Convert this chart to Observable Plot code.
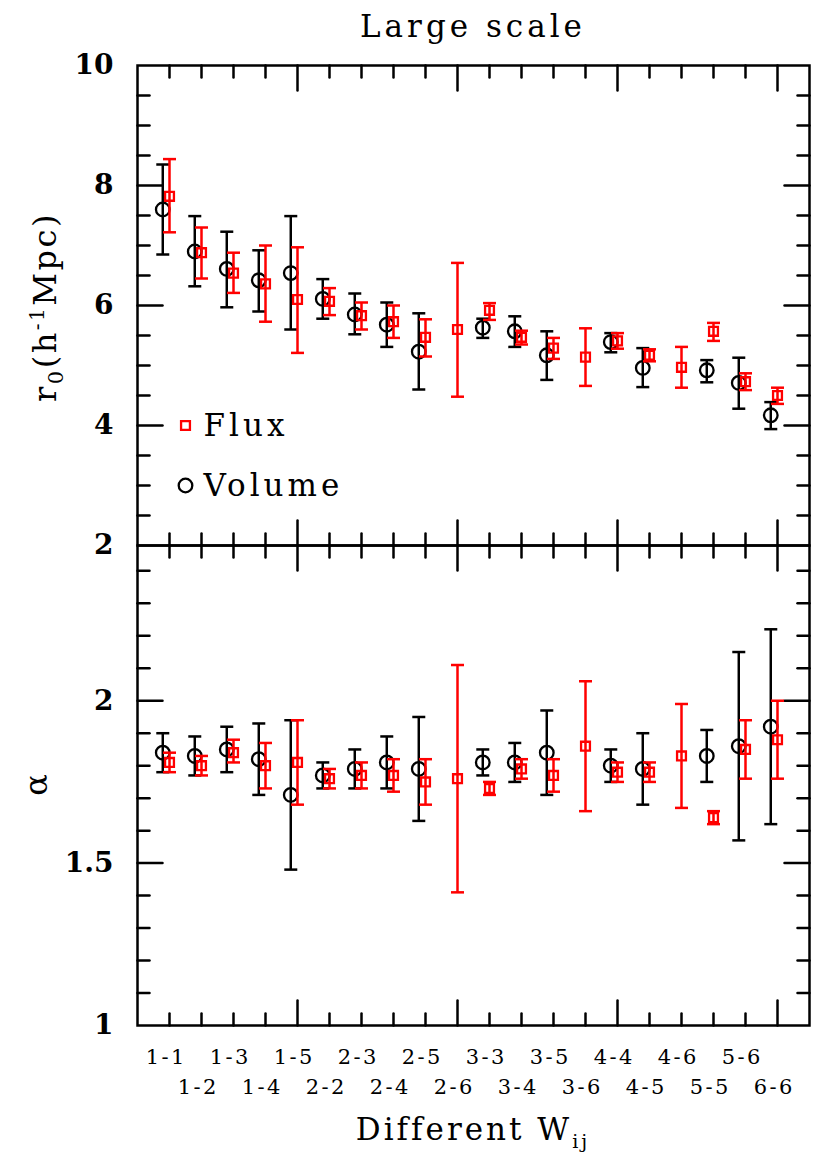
<!DOCTYPE html>
<html>
<head>
<meta charset="utf-8">
<script src="https://cdn.jsdelivr.net/npm/d3@7"></script>
<script src="https://cdn.jsdelivr.net/npm/@observablehq/plot@0.6"></script>
<style>
  body { margin: 0; background: #fff; }
  #title { width: 830px; height: 50px; box-sizing: border-box; padding-left: 116px; text-align: center;
           font-family: "DejaVu Serif"; font-size: 31px; line-height: 52px; letter-spacing: 4px; color: #000; }
  #chart svg { display: block; overflow: visible; background: transparent; }
</style>
</head>
<body>
<div id="title">Large scale</div>
<div id="chart"></div>
<script>
// ---- data ----
const pairs = ["1-1","1-2","1-3","1-4","1-5","2-2","2-3","2-4","2-5","2-6",
               "3-3","3-4","3-5","3-6","4-4","4-5","4-6","5-5","5-6","6-6"];

// Volume (black circles) — r0
const volR0   = [7.60, 6.90, 6.61, 6.42, 6.54, 6.11, 5.85, 5.68, 5.23, null, 5.63, 5.57, 5.17, null, 5.39, 4.96, null, 4.92, 4.71, 4.17];
const volR0Lo = [6.85, 6.32, 5.97, 5.90, 5.60, 5.78, 5.52, 5.31, 4.60, null, 5.46, 5.31, 4.76, null, 5.22, 4.64, null, 4.72, 4.28, 3.94];
const volR0Hi = [8.35, 7.49, 7.23, 6.92, 7.49, 6.44, 6.20, 6.05, 5.87, null, 5.78, 5.82, 5.57, null, 5.54, 5.29, null, 5.09, 5.13, 4.39];

// Flux (red squares) — r0
const fluxR0   = [7.82, 6.88, 6.54, 6.36, 6.10, 6.07, 5.83, 5.73, 5.47, 5.60, 5.92, 5.47, 5.29, 5.14, 5.41, 5.17, 4.97, 5.57, 4.73, 4.50];
const fluxR0Lo = [7.22, 6.45, 6.21, 5.73, 5.21, 5.84, 5.60, 5.46, 5.15, 4.48, 5.76, 5.35, 5.11, 4.66, 5.28, 5.07, 4.63, 5.41, 4.59, 4.36];
const fluxR0Hi = [8.44, 7.30, 6.88, 7.00, 6.97, 6.29, 6.05, 6.00, 5.77, 6.71, 6.04, 5.58, 5.46, 5.62, 5.54, 5.27, 5.31, 5.71, 4.87, 4.63];

// Volume — alpha
const volA   = [1.84, 1.83, 1.85, 1.82, 1.71, 1.77, 1.79, 1.81, 1.79, null, 1.81, 1.81, 1.84, null, 1.80, 1.79, null, 1.83, 1.86, 1.92];
const volALo = [1.78, 1.77, 1.78, 1.71, 1.48, 1.73, 1.73, 1.73, 1.63, null, 1.77, 1.75, 1.71, null, 1.75, 1.68, null, 1.75, 1.57, 1.62];
const volAHi = [1.90, 1.89, 1.92, 1.93, 1.94, 1.81, 1.85, 1.89, 1.95, null, 1.85, 1.87, 1.97, null, 1.85, 1.90, null, 1.91, 2.15, 2.22];

// Flux — alpha
const fluxA   = [1.81, 1.80, 1.84, 1.80, 1.81, 1.76, 1.77, 1.77, 1.75, 1.76, 1.73, 1.79, 1.77, 1.86, 1.78, 1.78, 1.83, 1.64, 1.85, 1.88];
const fluxALo = [1.78, 1.77, 1.81, 1.73, 1.68, 1.73, 1.73, 1.72, 1.68, 1.41, 1.71, 1.76, 1.72, 1.66, 1.75, 1.75, 1.67, 1.62, 1.76, 1.76];
const fluxAHi = [1.84, 1.83, 1.88, 1.87, 1.94, 1.79, 1.81, 1.82, 1.82, 2.11, 1.75, 1.82, 1.82, 2.06, 1.81, 1.81, 1.99, 1.66, 1.94, 2.00];

// tick values
const r0Labels = [2, 4, 6, 8, 10];
const r0Minor = [2.5, 3, 3.5, 4.5, 5, 5.5, 6.5, 7, 7.5, 8.5, 9, 9.5];
const r0Major = [4, 6, 8];
const aLabels = [1, 1.5, 2];
const aMinor = [1.1, 1.2, 1.3, 1.4, 1.6, 1.7, 1.8, 1.9, 2.1, 2.2, 2.3, 2.4];
const aMajor = [1.5, 2];
const xMinor = [1,2,3,4,6,7,8,9,11,12,13,14,16,17,18,19];
const xMajor = [5, 10, 15, 20];

// ---- helpers ----
const volOffset = 0.21;   // volume points drawn slightly left of the flux points
function rows(v, lo, hi, off) {
  return pairs.map((p, i) => ({pair: p, pos: i + 1 - off, v: v[i], lo: lo[i], hi: hi[i]}))
              .filter(d => d.v != null);
}
const capSym = {draw(ctx) { ctx.moveTo(-6.5, 0); ctx.lineTo(6.5, 0); }};
const tickLine = {draw(ctx, l) { ctx.moveTo(0, 0); ctx.lineTo(0, -l); }};
function edge(values, chan, anchor, rotate, length) {
  return Plot.vector(values, {[chan]: d => d, frameAnchor: anchor, rotate, length, anchor: "start",
                              shape: tickLine, stroke: "black", strokeWidth: 2.5});
}
function series(data, color, symbol, r) {
  return [
    Plot.ruleX(data, {x: "pos", y1: "lo", y2: "hi", stroke: color, strokeWidth: 2.5}),
    Plot.dot(data, {x: "pos", y: "lo", symbol: capSym, stroke: color, fill: "none", strokeWidth: 2.5}),
    Plot.dot(data, {x: "pos", y: "hi", symbol: capSym, stroke: color, fill: "none", strokeWidth: 2.5}),
    Plot.dot(data, {x: "pos", y: "v", symbol, r, stroke: color, fill: "none", strokeWidth: 2.3})
  ];
}
const RED = "#ff0000";
const common = {
  width: 830, marginLeft: 137, marginRight: 21,
  x: {domain: [0, 21], axis: null},
  style: {fontFamily: "DejaVu Serif", overflow: "visible", background: "transparent", color: "black"}
};
function frameTicks(yMinor, yMajor) {
  return [
    Plot.frame({stroke: "black", strokeWidth: 2.5}),
    edge(yMinor, "y", "left", 90, 12), edge(yMajor, "y", "left", 90, 25),
    edge(yMinor, "y", "right", 270, 12), edge(yMajor, "y", "right", 270, 25),
    edge(xMinor, "x", "top", 180, 12), edge(xMajor, "x", "top", 180, 25),
    edge(xMinor, "x", "bottom", 0, 12), edge(xMajor, "x", "bottom", 0, 25)
  ];
}

// ---- top panel: r0 ----
const topPlot = Plot.plot({
  ...common, height: 495, marginTop: 15, marginBottom: 0,
  y: {domain: [2, 10], axis: null},
  marks: [
    ...frameTicks(r0Minor, r0Major),
    Plot.axisY({ticks: r0Labels, tickSize: 0, tickPadding: 24, tickFormat: d => String(d),
                fontSize: 28, fontWeight: "bold", label: null}),
    ...series(rows(volR0, volR0Lo, volR0Hi, volOffset), "black", "circle", 6.8),
    ...series(rows(fluxR0, fluxR0Lo, fluxR0Hi, 0), RED, "square", 5),
    // legend
    Plot.dot(["Flux"], {x: null, y: null, frameAnchor: "top-left", dx: 48, dy: 360, symbol: "square", r: 5,
                        stroke: RED, fill: "none", strokeWidth: 2.3}),
    Plot.text(["Flux"], {x: null, y: null, text: d => d, frameAnchor: "top-left", dx: 66, dy: 361,
                         textAnchor: "start", lineAnchor: "middle", fontSize: 31, fill: "black"}),
    Plot.dot(["Volume"], {x: null, y: null, frameAnchor: "top-left", dx: 48, dy: 420, symbol: "circle", r: 6.8,
                          stroke: "black", fill: "none", strokeWidth: 2.3}),
    Plot.text(["Volume"], {x: null, y: null, text: d => d, frameAnchor: "top-left", dx: 66, dy: 421,
                           textAnchor: "start", lineAnchor: "middle", fontSize: 31, fill: "black"})
  ]
});

// ---- bottom panel: alpha ----
const bottomPlot = Plot.plot({
  ...common, height: 614, marginTop: 0, marginBottom: 134,
  y: {domain: [1, 2.478], axis: null},
  marks: [
    ...frameTicks(aMinor, aMajor),
    Plot.axisY({ticks: aLabels, tickSize: 0, tickPadding: 24, tickFormat: d => String(d),
                fontSize: 28, fontWeight: "bold", label: null}),
    ...series(rows(volA, volALo, volAHi, volOffset), "black", "circle", 6.8),
    ...series(rows(fluxA, fluxALo, fluxAHi, 0), RED, "square", 5),
    Plot.text(pairs, {x: (d, i) => i + 1 - 0.1, text: d => d, frameAnchor: "bottom", dy: 32, lineAnchor: "middle",
                      filter: (d, i) => i % 2 === 0, fontSize: 21, fill: "black"}),
    Plot.text(pairs, {x: (d, i) => i + 1 - 0.1, text: d => d, frameAnchor: "bottom", dy: 62, lineAnchor: "middle",
                      filter: (d, i) => i % 2 === 1, fontSize: 21, fill: "black"})
  ]
});

const chart = document.getElementById("chart");
chart.append(topPlot, bottomPlot);

// letter spacing for legend / category labels
d3.select(topPlot).selectAll("text").filter(function() { return this.textContent === "Flux" || this.textContent === "Volume"; })
  .attr("letter-spacing", 4);
d3.select(bottomPlot).selectAll("text").filter(function() { return pairs.includes(this.textContent); })
  .attr("letter-spacing", 2.5);

// axis titles with sub/superscripts
const yt = d3.select(topPlot).append("text")
  .attr("transform", "translate(56,257) rotate(-90)")
  .attr("text-anchor", "middle").attr("font-family", "DejaVu Serif").attr("font-size", 32)
  .attr("letter-spacing", 2.5).attr("fill", "black");
yt.append("tspan").text("r");
yt.append("tspan").attr("font-size", 21).attr("dy", 7).text("0");
yt.append("tspan").attr("dy", -7).text("(h");
yt.append("tspan").attr("font-size", 20).attr("dy", -12).text("-1");
yt.append("tspan").attr("dy", 12).text("Mpc)");

d3.select(bottomPlot).append("text")
  .attr("transform", "translate(47,240) rotate(-90)")
  .attr("text-anchor", "middle").attr("font-family", "DejaVu Serif").attr("font-size", 32)
  .attr("fill", "black").text("α");

const xt = d3.select(bottomPlot).append("text")
  .attr("x", 473).attr("y", 595)
  .attr("text-anchor", "middle").attr("font-family", "DejaVu Serif").attr("font-size", 31)
  .attr("letter-spacing", 3).attr("fill", "black");
xt.append("tspan").text("Different W");
xt.append("tspan").attr("font-size", 19).attr("dy", 8).text("ij");
</script>
</body>
</html>
